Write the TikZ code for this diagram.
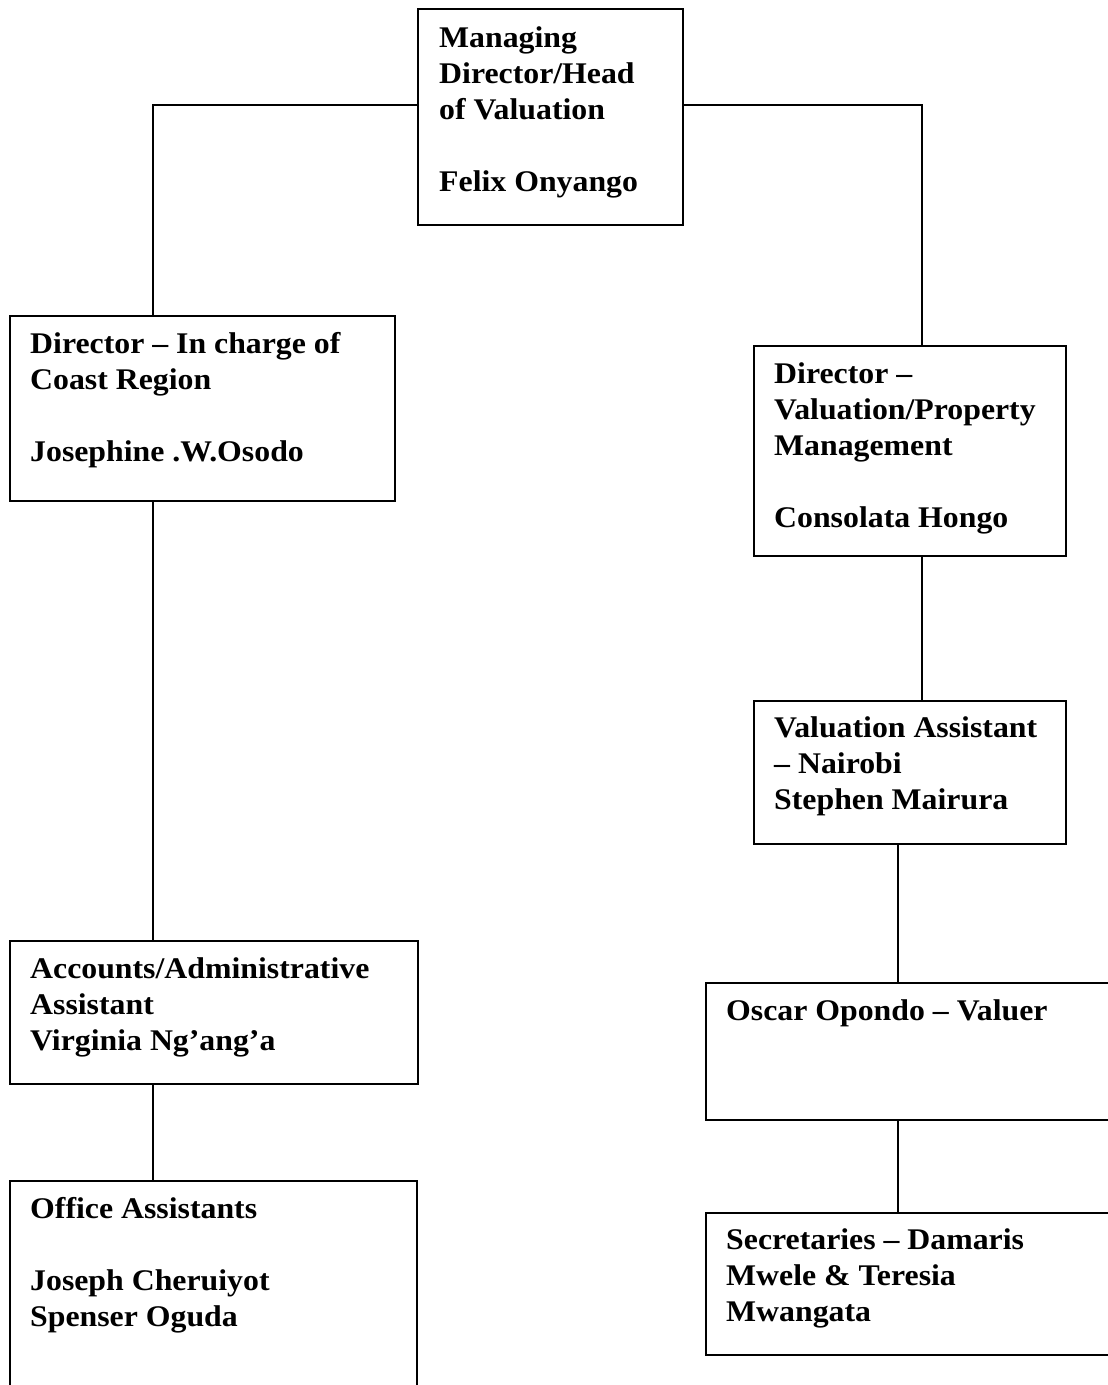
\documentclass[tikz,border=0pt]{standalone}
\usepackage{fontspec}
\setmainfont{Liberation Serif}[FakeStretch=1.06]
\newcommand{\topstrut}{\rule{0pt}{22pt}}
\begin{document}
\begin{tikzpicture}[x=1pt,y=-1pt,
  box/.style={draw=black,line width=2pt,rectangle,anchor=north west,inner sep=0pt},
  txt/.style={anchor=north west,align=left,inner sep=0pt,font=\bfseries\fontsize{30}{36}\selectfont},
  link/.style={draw=black,line width=2pt}]
\useasboundingbox (0,0) rectangle (1108,1385);
\clip (0,0) rectangle (1108,1385);
% boxes
\node[box,minimum width=265,minimum height=216] (b0) at (417,8) {};
\node[box,minimum width=385,minimum height=185] (b1) at (9,315) {};
\node[box,minimum width=408,minimum height=143] (b2) at (9,940) {};
\node[box,minimum width=407,minimum height=240] (b3) at (9,1180) {};
\node[box,minimum width=312,minimum height=210] (b4) at (753,345) {};
\node[box,minimum width=312,minimum height=143] (b5) at (753,700) {};
\node[box,minimum width=420,minimum height=137] (b6) at (705,982) {};
\node[box,minimum width=420,minimum height=142] (b7) at (705,1212) {};
% texts (first baseline about 38 below the box top)
\node[txt] (t0) at ([shift={(22,17)}]b0.north west) {\topstrut Managing\\Director/Head\\of Valuation\\[36pt]Felix Onyango};
\node[txt] (t1) at ([shift={(21,16)}]b1.north west) {\topstrut Director – In charge of\\Coast Region\\[36pt]Josephine .W.Osodo};
\node[txt] (t2) at ([shift={(21,16)}]b2.north west) {\topstrut Accounts/Administrative\\Assistant\\Virginia Ng’ang’a};
\node[txt] (t3) at ([shift={(21,16)}]b3.north west) {\topstrut Office Assistants\\[36pt]Joseph Cheruiyot\\Spenser Oguda};
\node[txt] (t4) at ([shift={(21,16)}]b4.north west) {\topstrut Director –\\Valuation/Property\\Management\\[36pt]Consolata Hongo};
\node[txt] (t5) at ([shift={(21,15)}]b5.north west) {\topstrut Valuation Assistant\\– Nairobi\\Stephen Mairura};
\node[txt] (t6) at ([shift={(21,16)}]b6.north west) {\topstrut Oscar Opondo – Valuer};
\node[txt] (t7) at ([shift={(21,15)}]b7.north west) {\topstrut Secretaries – Damaris\\Mwele \& Teresia\\Mwangata};
% junctions
\coordinate (j1) at (153,105);
\coordinate (j2) at (922,105);
\coordinate (j3) at (898,0);
% connectors
\draw[link] (b0.west |- j1) -- (j1) -- (j1 |- b1.north);
\draw[link] (b0.east |- j2) -- (j2) -- (j2 |- b4.north);
\draw[link] (j1 |- b1.south) -- (j1 |- b2.north);
\draw[link] (j1 |- b2.south) -- (j1 |- b3.north);
\draw[link] (j2 |- b4.south) -- (j2 |- b5.north);
\draw[link] (j3 |- b5.south) -- (j3 |- b6.north);
\draw[link] (j3 |- b6.south) -- (j3 |- b7.north);
\end{tikzpicture}
\end{document}
